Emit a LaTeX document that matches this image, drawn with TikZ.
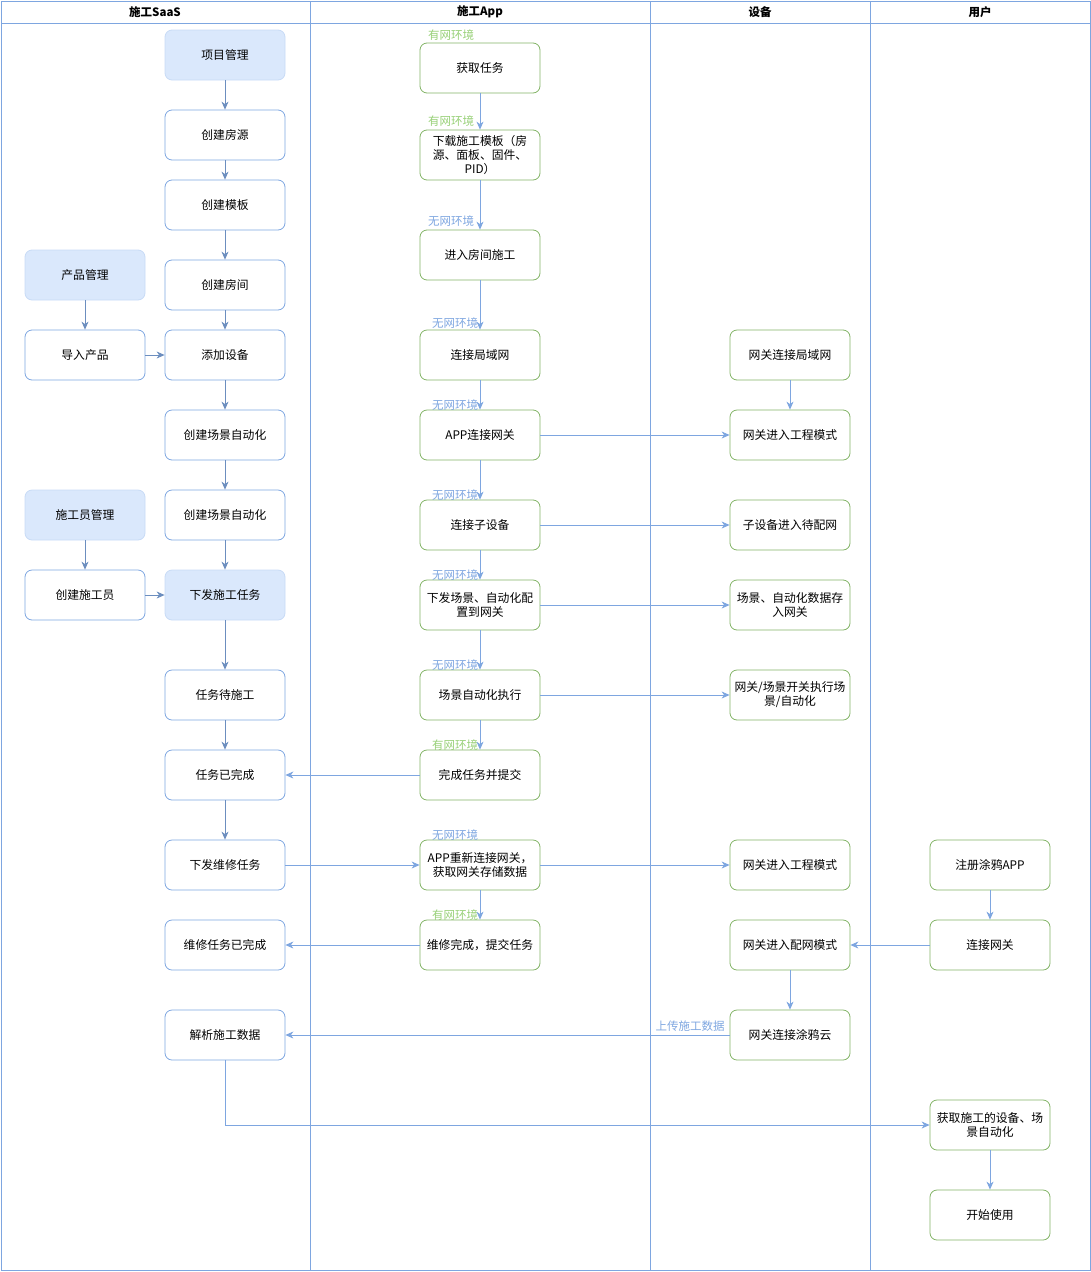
\documentclass[tikz,border=0pt]{standalone}
\usepackage{fontspec}
\setmainfont{Noto Sans CJK SC}
\usetikzlibrary{arrows.meta}
\definecolor{lane}{HTML}{7EA6E0}
\definecolor{bluefill}{HTML}{DAE8FC}
\definecolor{blueline}{HTML}{7EA6E0}
\definecolor{darkblue}{HTML}{6C8EBF}
\definecolor{greenline}{HTML}{82B366}
\definecolor{greentext}{HTML}{97D077}
\begin{document}
\begin{tikzpicture}[x=1pt,y=-1pt,
  font=\fontsize{11.8}{14}\selectfont,
  box/.style={draw=blueline,rounded corners=7pt,minimum width=120pt,minimum height=50pt,align=center,inner sep=1pt,line width=0.8pt},
  fbox/.style={box,fill=bluefill,draw=bluefill!80!blueline},
  gbox/.style={draw=greenline,rounded corners=7pt,minimum width=120pt,minimum height=50pt,align=center,inner sep=1pt,line width=0.8pt},
  arr/.style={draw=blueline,line width=0.8pt,-{Stealth[length=8pt,width=7pt,inset=2.5pt]}},
  darr/.style={arr,draw=darkblue},
  gl/.style={text=greentext,font=\fontsize{11.5}{13}\selectfont,inner sep=0pt},
  bl/.style={text=blueline,font=\fontsize{11.5}{13}\selectfont,inner sep=0pt},
  hdr/.style={font=\fontsize{11.5}{13}\selectfont\bfseries}
]
\useasboundingbox (0,0) rectangle (1091,1272);
% lanes
\draw[lane,line width=0.8pt] (1,1) rectangle (1090,1270);
\draw[lane,line width=0.8pt] (1,23) -- (1090,23);
\draw[lane,line width=0.8pt] (310,1) -- (310,1270);
\draw[lane,line width=0.8pt] (650,1) -- (650,1270);
\draw[lane,line width=0.8pt] (870,1) -- (870,1270);
\node[hdr] (h1) at (155,12) {施工SaaS};
\node[hdr] (h2) at (480,12) {施工App};
\node[hdr] (h3) at (760,12) {设备};
\node[hdr] (h4) at (980,12) {用户};

% SaaS
\node[fbox] (s1) at (225,55) {项目管理};
\node[box] (s2) at (225,135) {创建房源};
\node[box] (s3) at (225,205) {创建模板};
\node[box] (s4) at (225,285) {创建房间};
\node[fbox] (p1) at (85,275) {产品管理};
\node[box] (p2) at (85,355) {导入产品};
\node[box] (s5) at (225,355) {添加设备};
\node[box] (s6) at (225,435) {创建场景自动化};
\node[fbox] (w1) at (85,515) {施工员管理};
\node[box] (s7) at (225,515) {创建场景自动化};
\node[box] (w2) at (85,595) {创建施工员};
\node[fbox] (s8) at (225,595) {下发施工任务};
\node[box] (s9) at (225,695) {任务待施工};
\node[box] (s10) at (225,775) {任务已完成};
\node[box] (s11) at (225,865) {下发维修任务};
\node[box] (s12) at (225,945) {维修任务已完成};
\node[box] (s13) at (225,1035) {解析施工数据};

% App
\node[gbox] (a1) at (480,68) {获取任务};
\node[gbox] (a2) at (480,155) {下载施工模板（房\\源、面板、固件、\\PID）};
\node[gbox] (a3) at (480,255) {进入房间施工};
\node[gbox] (a4) at (480,355) {连接局域网};
\node[gbox] (a5) at (480,435) {APP连接网关};
\node[gbox] (a6) at (480,525) {连接子设备};
\node[gbox] (a7) at (480,605) {下发场景、自动化配\\置到网关};
\node[gbox] (a8) at (480,695) {场景自动化执行};
\node[gbox] (a9) at (480,775) {完成任务并提交};
\node[gbox] (a10) at (480,865) {APP重新连接网关，\\获取网关存储数据};
\node[gbox] (a11) at (480,945) {维修完成，提交任务};

% Device
\node[gbox] (d1) at (790,355) {网关连接局域网};
\node[gbox] (d2) at (790,435) {网关进入工程模式};
\node[gbox] (d3) at (790,525) {子设备进入待配网};
\node[gbox] (d4) at (790,605) {场景、自动化数据存\\入网关};
\node[gbox] (d5) at (790,695) {网关/场景开关执行场\\景/自动化};
\node[gbox] (d6) at (790,865) {网关进入工程模式};
\node[gbox] (d7) at (790,945) {网关进入配网模式};
\node[gbox] (d8) at (790,1035) {网关连接涂鸦云};

% User
\node[gbox] (u1) at (990,865) {注册涂鸦APP};
\node[gbox] (u2) at (990,945) {连接网关};
\node[gbox] (u3) at (990,1125) {获取施工的设备、场\\景自动化};
\node[gbox] (u4) at (990,1215) {开始使用};

% labels
\node[gl] (l1) at (451,35) {有网环境};
\node[gl] (l2) at (451,121) {有网环境};
\node[bl] (l3) at (451,221) {无网环境};
\node[bl] (l4) at (455,323) {无网环境};
\node[bl] (l5) at (455,405) {无网环境};
\node[bl] (l6) at (455,495) {无网环境};
\node[bl] (l7) at (455,575) {无网环境};
\node[bl] (l8) at (455,665) {无网环境};
\node[gl] (l9) at (455,745) {有网环境};
\node[bl] (l10) at (455,835) {无网环境};
\node[gl] (l11) at (455,915) {有网环境};
\node[bl] (l12) at (690,1026) {上传施工数据};

% SaaS edges
\draw[darr] (s1) -- (s2);
\draw[darr] (s2) -- (s3);
\draw[darr] (s3) -- (s4);
\draw[darr] (s4) -- (s5);
\draw[darr] (s5) -- (s6);
\draw[darr] (s6) -- (s7);
\draw[darr] (s7) -- (s8);
\draw[darr] (s8) -- (s9);
\draw[darr] (s9) -- (s10);
\draw[darr] (s10) -- (s11);
\draw[darr] (p1) -- (p2);
\draw[darr] (p2) -- (s5);
\draw[darr] (w1) -- (w2);
\draw[darr] (w2) -- (s8);

% App edges
\draw[arr] (a1) -- (a2);
\draw[arr] (a2) -- (a3);
\draw[arr] (a3) -- (a4);
\draw[arr] (a4) -- (a5);
\draw[arr] (a5) -- (a6);
\draw[arr] (a6) -- (a7);
\draw[arr] (a7) -- (a8);
\draw[arr] (a8) -- (a9);
\draw[arr] (a10) -- (a11);
\draw[arr] (a9) -- (s10);
\draw[arr] (s11) -- (a10);
\draw[arr] (a11) -- (s12);

% horizontal to devices
\draw[arr] (a5) -- (d2);
\draw[arr] (a6) -- (d3);
\draw[arr] (a7) -- (d4);
\draw[arr] (a8) -- (d5);
\draw[arr] (a10) -- (d6);
\draw[arr] (d1) -- (d2);
\draw[arr] (d7) -- (d8);
\draw[arr] (d8) -- (s13);

% user
\draw[arr] (u1) -- (u2);
\draw[arr] (u2) -- (d7);
\draw[arr] (s13) |- (u3);
\draw[arr] (u3) -- (u4);
\end{tikzpicture}
\end{document}
